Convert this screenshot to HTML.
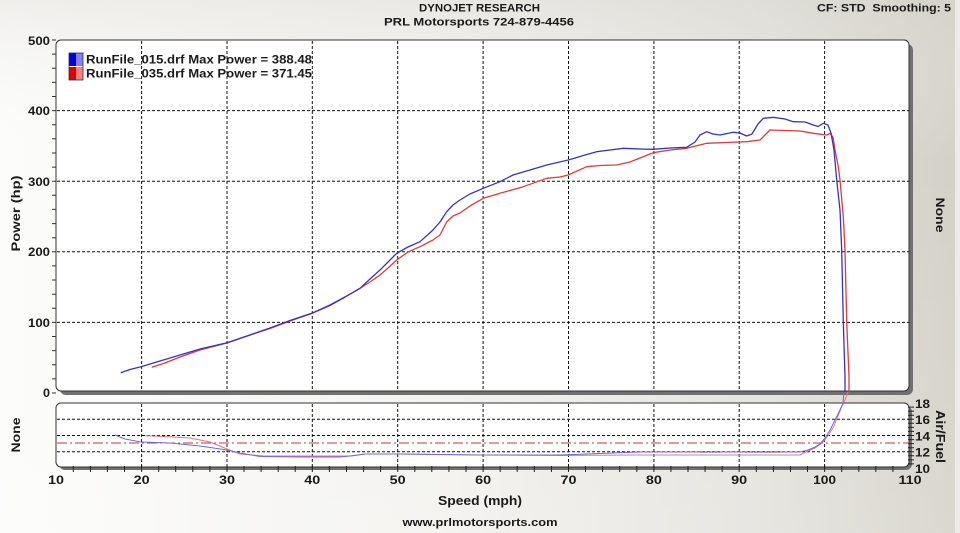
<!DOCTYPE html>
<html><head><meta charset="utf-8">
<style>
html,body{margin:0;padding:0;width:960px;height:533px;overflow:hidden;background:#f4f3f0}
svg{display:block}
text{font-family:"Liberation Sans",Arial,sans-serif;font-weight:bold;fill:#1a1a1a}
</style></head><body>
<svg width="960" height="533" viewBox="0 0 960 533" xmlns="http://www.w3.org/2000/svg">
<defs>
<linearGradient id="bg" x1="0" y1="0" x2="1" y2="0">
<stop offset="0" stop-color="#fcfcfb"/>
<stop offset="0.45" stop-color="#f3f2ef"/>
<stop offset="0.8" stop-color="#e3e1db"/>
<stop offset="1" stop-color="#d3d0c7"/>
</linearGradient>
<linearGradient id="bgv" x1="0" y1="0" x2="0" y2="1">
<stop offset="0" stop-color="#d8d6d0" stop-opacity="0.35"/>
<stop offset="0.3" stop-color="#ffffff" stop-opacity="0"/>
<stop offset="1" stop-color="#ffffff" stop-opacity="0.15"/>
</linearGradient>
</defs>
<rect x="0" y="0" width="960" height="533" fill="url(#bg)"/>
<rect x="0" y="0" width="960" height="533" fill="url(#bgv)"/>
<rect x="955" y="0" width="5" height="533" fill="#ecebe8"/>

<!-- titles -->
<text x="479.5" y="11.5" font-size="11" text-anchor="middle" textLength="121" lengthAdjust="spacingAndGlyphs">DYNOJET RESEARCH</text>
<text x="479" y="25.5" font-size="11" text-anchor="middle" textLength="190" lengthAdjust="spacingAndGlyphs">PRL Motorsports 724-879-4456</text>
<text x="817" y="11.5" font-size="11" textLength="134" lengthAdjust="spacingAndGlyphs">CF: STD&#160;&#160;Smoothing: 5</text>

<!-- top plot -->
<rect x="60" y="44" width="853" height="351" rx="6" fill="#707070"/>
<rect x="56" y="40" width="853" height="351" rx="5" fill="#ffffff" stroke="#333" stroke-width="1"/>
<!-- left ticks -->
<path d="M52 393h4M52 378.9h4M52 364.8h4M52 350.6h4M52 336.5h4M52 322.4h4M52 308.3h4M52 294.2h4M52 280h4M52 265.9h4M52 251.8h4M52 237.7h4M52 223.6h4M52 209.4h4M52 195.3h4M52 181.2h4M52 167.1h4M52 153h4M52 138.8h4M52 124.7h4M52 110.6h4M52 96.5h4M52 82.4h4M52 68.2h4M52 54.1h4M52 40h4" stroke="#333" stroke-width="1"/>
<!-- grid -->
<g stroke="#111" stroke-width="1" stroke-dasharray="3,2" fill="none">
<path d="M141.6 41V391M227 41V391M312.3 41V391M397.7 41V391M483.1 41V391M568.5 41V391M653.9 41V391M739.2 41V391M824.6 41V391"/>
<path d="M57 322.4H909M57 251.8H909M57 181.2H909M57 110.6H909"/>
</g>
<!-- legend -->
<rect x="69" y="53" width="7" height="13" fill="#0000e0"/>
<rect x="76" y="53" width="7" height="13" fill="#8080ff"/>
<rect x="69" y="67" width="7" height="13" fill="#e00000"/>
<rect x="76" y="67" width="7" height="13" fill="#ff8080"/>
<rect x="69" y="53" width="14" height="27" fill="none" stroke="#333" stroke-width="0.8"/>
<text x="86" y="63.5" font-size="12" textLength="226" lengthAdjust="spacingAndGlyphs">RunFile_015.drf Max Power = 388.48</text>
<text x="86" y="77.5" font-size="12" textLength="226" lengthAdjust="spacingAndGlyphs">RunFile_035.drf Max Power = 371.45</text>

<!-- power curves -->
<polyline fill="none" stroke="#e03a3a" stroke-width="1.3" stroke-linejoin="round" points="151.7,367.3 165,363 180,357 200,350 227,343 250,335 270,328.5 290,321 311.7,313.5 330,305.5 345,297 360,288.3 370,282 380,275 388,268 396.7,260 408,252 420,246.7 433,240 440,235 446.7,222 453,216 460,213 470,206 483.3,198.3 500,193.3 523.3,186.7 546.7,178.3 560,177 568.3,175 586.7,166.7 600,165.5 616.7,165 630,162 645,156 653.3,152.7 670,150 686.7,148.3 706.7,143.3 725,142.5 746.7,141.7 760,140 765,135 770,130 785,130.5 800,131 813.3,133.3 826.7,135 830,133.3 833,137 835,150 838.3,166.7 840,180 843.3,216.7 845,250 846.7,321.7 849,376.7 849,392"/>
<polyline fill="none" stroke="#3434c0" stroke-width="1.3" stroke-linejoin="round" points="120.7,372.7 130,369.5 141,366.7 160,361 180,355 200,349 227,342.7 250,335 270,328 290,320.5 311.7,313.3 330,305 345,297 360,288.3 370,279 380,270 388,262 396.7,253.3 408,247 420,241.7 433,230 440,222 446.7,211.7 453,205 460,200 470,194 483.3,188.3 500,181.7 513,175 530,170 546.7,165 568.3,160 585,155 596.7,151.7 610,150 623.3,148.3 640,149 653.3,149.3 670,148 686.7,147.3 695,142 700,135 706.7,131.7 713,134 720,135 733.3,132.3 740,133 746.7,136 752,134 758,124 763.3,118.3 773.3,117.3 785,119 793.3,121.7 805,122 813.3,125 818,126.5 823.3,123.3 828,125 831,133 834,150 836.7,180 840,210 841.7,250 843.3,321.7 845,376.7 845,392"/>

<!-- lower plot -->
<rect x="59" y="406" width="853" height="64" rx="6" fill="#707070"/>
<rect x="56" y="403" width="853" height="64" rx="5" fill="#ffffff" stroke="#333" stroke-width="1"/>
<path d="M73.3 466v6M90.4 466v6M107.4 466v6M124.5 466v6M141.6 466v6M158.7 466v6M175.7 466v6M192.8 466v6M209.9 466v6M227 466v6M244 466v6M261.1 466v6M278.2 466v6M295.2 466v6M312.3 466v6M329.4 466v6M346.5 466v6M363.6 466v6M380.6 466v6M397.7 466v6M414.8 466v6M431.8 466v6M448.9 466v6M466 466v6M483.1 466v6M500.2 466v6M517.2 466v6M534.3 466v6M551.4 466v6M568.5 466v6M585.5 466v6M602.6 466v6M619.7 466v6M636.8 466v6M653.9 466v6M670.9 466v6M688 466v6M705.1 466v6M722.2 466v6M739.2 466v6M756.3 466v6M773.4 466v6M790.5 466v6M807.5 466v6M824.6 466v6M841.7 466v6M858.8 466v6M875.8 466v6M892.9 466v6" stroke="#222" stroke-width="1"/>
<path d="M908 407.1h6M908 411.1h6M908 415.2h6M908 419.25h6M908 423.3h6M908 427.4h6M908 431.4h6M908 435.5h6M908 439.6h6M908 443.6h6M908 447.7h6M908 451.75h6M908 455.8h6M908 459.9h6M908 463.9h6" stroke="#222" stroke-width="1"/>
<g stroke="#111" stroke-width="1" stroke-dasharray="3,2" fill="none">
<path d="M141.6 404V467M227 404V467M312.3 404V467M397.7 404V467M483.1 404V467M568.5 404V467M653.9 404V467M739.2 404V467M824.6 404V467"/>
<path d="M57 419.25H909M57 435.5H909M57 451.75H909"/>
</g>
<path d="M57 443H909" stroke="#c03838" stroke-width="1" stroke-dasharray="10,3,2,3" fill="none"/>
<!-- AFR curves -->
<polyline fill="none" stroke="#e87878" stroke-width="1" stroke-linejoin="round" points="145,435.7 170,436.7 190,438 210,442 227,449 240,454 265,456 350,456 365,454 400,454 480,455 560,455.5 640,455 800,455 806,452 815,448 822,443 828,436 834,426 838,416 842,406 845,400 848,392"/>
<polyline fill="none" stroke="#6a6ae0" stroke-width="1" stroke-linejoin="round" points="115,435 125,439 141,442 170,443 200,446 227,450 240,453 260,456.5 300,457 340,457 355,455.5 365,454 400,454 480,455 560,455 640,452 700,452 800,452 808,450 815,447 820,444 825,438 830,430 835,420 840,410 843,403 844,392"/>
<path d="M700 452h20M745 452h35" stroke="#3434a0" stroke-width="1" stroke-dasharray="2,1"/>

<!-- y labels top -->
<g font-size="12">
<text x="50" y="45" text-anchor="end" textLength="22" lengthAdjust="spacingAndGlyphs">500</text>
<text x="50" y="115" text-anchor="end" textLength="22" lengthAdjust="spacingAndGlyphs">400</text>
<text x="50" y="186" text-anchor="end" textLength="22" lengthAdjust="spacingAndGlyphs">300</text>
<text x="50" y="256" text-anchor="end" textLength="22" lengthAdjust="spacingAndGlyphs">200</text>
<text x="50" y="327" text-anchor="end" textLength="22" lengthAdjust="spacingAndGlyphs">100</text>
<text x="50" y="397" text-anchor="end" textLength="7" lengthAdjust="spacingAndGlyphs">0</text>
</g>
<!-- AFR labels -->
<g font-size="12">
<text x="915" y="408" textLength="15" lengthAdjust="spacingAndGlyphs">18</text>
<text x="915" y="424" textLength="15" lengthAdjust="spacingAndGlyphs">16</text>
<text x="915" y="440.5" textLength="15" lengthAdjust="spacingAndGlyphs">14</text>
<text x="915" y="456.5" textLength="15" lengthAdjust="spacingAndGlyphs">12</text>
<text x="915" y="473" textLength="15" lengthAdjust="spacingAndGlyphs">10</text>
</g>
<!-- x labels -->
<g font-size="12" text-anchor="middle">
<text x="56" y="484" textLength="16" lengthAdjust="spacingAndGlyphs">10</text>
<text x="141.6" y="484" textLength="16" lengthAdjust="spacingAndGlyphs">20</text>
<text x="227" y="484" textLength="16" lengthAdjust="spacingAndGlyphs">30</text>
<text x="312.3" y="484" textLength="16" lengthAdjust="spacingAndGlyphs">40</text>
<text x="397.7" y="484" textLength="16" lengthAdjust="spacingAndGlyphs">50</text>
<text x="483.1" y="484" textLength="16" lengthAdjust="spacingAndGlyphs">60</text>
<text x="568.5" y="484" textLength="16" lengthAdjust="spacingAndGlyphs">70</text>
<text x="653.9" y="484" textLength="16" lengthAdjust="spacingAndGlyphs">80</text>
<text x="739.2" y="484" textLength="16" lengthAdjust="spacingAndGlyphs">90</text>
<text x="824.6" y="484" textLength="23" lengthAdjust="spacingAndGlyphs">100</text>
<text x="910" y="484" textLength="23" lengthAdjust="spacingAndGlyphs">110</text>
</g>
<text x="480" y="505" font-size="13" text-anchor="middle" textLength="84" lengthAdjust="spacingAndGlyphs">Speed (mph)</text>
<text x="480" y="526" font-size="11" text-anchor="middle" textLength="155" lengthAdjust="spacingAndGlyphs">www.prlmotorsports.com</text>

<!-- rotated labels -->
<text transform="translate(20,213.5) rotate(-90)" font-size="12" text-anchor="middle" textLength="76" lengthAdjust="spacingAndGlyphs">Power (hp)</text>
<text transform="translate(20,435) rotate(-90)" font-size="12" text-anchor="middle" textLength="35" lengthAdjust="spacingAndGlyphs">None</text>
<text transform="translate(936,215) rotate(90)" font-size="12" text-anchor="middle" textLength="35" lengthAdjust="spacingAndGlyphs">None</text>
<text transform="translate(936,436.5) rotate(90)" font-size="13" text-anchor="middle" textLength="53" lengthAdjust="spacingAndGlyphs">Air/Fuel</text>
</svg>
</body></html>
